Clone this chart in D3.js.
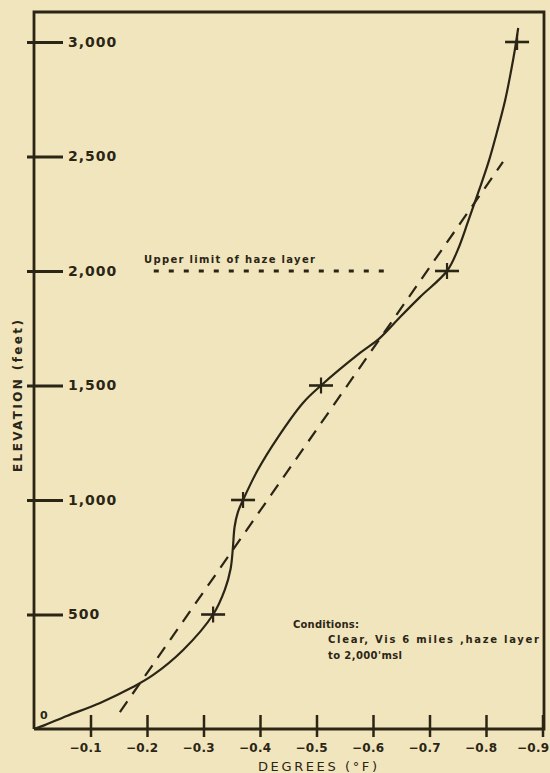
<!DOCTYPE html>
<html>
<head>
<meta charset="utf-8">
<script src="https://cdn.jsdelivr.net/npm/d3@7/dist/d3.min.js"></script>
<style>
  html, body { margin: 0; padding: 0; background: #f1e5bd; }
  svg { display: block; }
  text { font-family: "DejaVu Sans", sans-serif; font-weight: bold; fill: #2b2516; }
</style>
</head>
<body>
<div id="chart"></div>
<script>
// observed temperature change vs elevation (solid curve)
var curveDeg  = [0, -0.019, -0.058, -0.117, -0.175, -0.211, -0.264, -0.317, -0.338, -0.348, -0.352, -0.355, -0.361, -0.370,
                 -0.396, -0.432, -0.476, -0.508, -0.577, -0.612, -0.648, -0.683, -0.731, -0.750, -0.768, -0.786,
                 -0.804, -0.819, -0.834, -0.844, -0.851, -0.857];
var curveElev = [0, 17, 57, 114, 183, 236, 345, 500, 610, 700, 790, 882, 948, 1000,
                 1131, 1275, 1424, 1500, 1642, 1707, 1799, 1886, 2000, 2092, 2214, 2341,
                 2472, 2603, 2747, 2869, 2965, 3061];
// measured points (crosses)
var obsDeg  = [-0.317, -0.370, -0.508, -0.731, -0.855];
var obsElev = [500, 1000, 1500, 2000, 3000];
// straight dashed line
var fitDeg  = [-0.152, -0.830];
var fitElev = [74, 2476];
// haze layer top
var hazeDeg  = [-0.212, -0.625];
var hazeElev = [2000, 2000];

var yTicks = [500, 1000, 1500, 2000, 2500, 3000];
var xTicks = [-0.1, -0.2, -0.3, -0.4, -0.5, -0.6, -0.7, -0.8, -0.9];

var ink = "#2b2516";
var W = 550, H = 773;

var svg = d3.select("#chart").append("svg")
  .attr("width", W).attr("height", H);

var x = d3.scaleLinear().domain([0, -0.9]).range([34, 542.5]);
var y = d3.scaleLinear().domain([0, 3000]).range([729, 42]);

// frame
var frameTop = 12, frameRight = 544;
svg.append("path")
  .attr("d", "M" + x(0) + "," + y(0) + "V" + frameTop + "H" + frameRight + "V" + y(0) + "H" + x(0))
  .attr("fill", "none").attr("stroke", ink).attr("stroke-width", 2.8);

// y axis
var yAxis = svg.append("g")
  .attr("transform", "translate(" + x(0) + ",0)")
  .call(d3.axisRight(y).tickValues(yTicks).tickSize(29).tickPadding(5).tickFormat(d3.format(",")));
yAxis.select(".domain").remove();
yAxis.selectAll(".tick line").attr("x1", -7).attr("stroke", ink).attr("stroke-width", 2.8);
yAxis.selectAll(".tick text")
  .attr("fill", ink).style("font-size", "14px").style("letter-spacing", "1px").style("font-family", null);

// x axis
var xAxis = svg.append("g")
  .attr("transform", "translate(0," + y(0) + ")")
  .call(d3.axisBottom(x).tickValues(xTicks).tickSize(8).tickPadding(6)
    .tickFormat(function(d) { return "\u2212" + d3.format(".1f")(-d); }));
xAxis.select(".domain").remove();
xAxis.selectAll(".tick line").attr("y1", -14).attr("stroke", ink).attr("stroke-width", 2.5);
xAxis.selectAll(".tick text")
  .attr("fill", ink).attr("text-anchor", "end")
  .attr("x", function(d) { return Math.min(11, W - 1 - x(d)); })
  .style("font-size", "12px").style("letter-spacing", "0.3px").style("font-family", null);

// "0" at origin
svg.append("text").attr("x", x(0) + 6).attr("y", y(0) - 10)
  .style("font-size", "11px").text("0");

// axis titles
svg.append("text")
  .attr("transform", "translate(22," + 396 + ") rotate(-90)")
  .attr("text-anchor", "middle")
  .attr("textLength", 152).attr("lengthAdjust", "spacing")
  .style("font-size", "12px").text("ELEVATION (feet)");

svg.append("text")
  .attr("x", 258).attr("y", 771)
  .attr("textLength", 119).attr("lengthAdjust", "spacing")
  .style("font-size", "13px").style("font-weight", "normal").text("DEGREES (\u00b0F)");

// haze layer dotted line
svg.append("line")
  .attr("x1", x(hazeDeg[0])).attr("y1", y(hazeElev[0]))
  .attr("x2", x(hazeDeg[1])).attr("y2", y(hazeElev[1]))
  .attr("stroke", ink).attr("stroke-width", 3).attr("stroke-dasharray", "5,10");

svg.append("text").attr("x", 144).attr("y", 263)
  .attr("textLength", 171).attr("lengthAdjust", "spacing")
  .style("font-size", "10px").text("Upper limit of haze layer");

// dashed straight line
svg.append("line")
  .attr("x1", x(fitDeg[0])).attr("y1", y(fitElev[0]))
  .attr("x2", x(fitDeg[1])).attr("y2", y(fitElev[1]))
  .attr("stroke", ink).attr("stroke-width", 2.2).attr("stroke-dasharray", "13,9");

// solid curve
var pts = curveDeg.map(function(d, i) { return [d, curveElev[i]]; });
var line = d3.line()
  .x(function(d) { return x(d[0]); })
  .y(function(d) { return y(d[1]); })
  .curve(d3.curveCatmullRom.alpha(0.5));
svg.append("path").datum(pts)
  .attr("d", line)
  .attr("fill", "none").attr("stroke", ink).attr("stroke-width", 2.2);

// crosses
var obs = obsDeg.map(function(d, i) { return { deg: d, elev: obsElev[i] }; });
var cross = svg.selectAll("g.cross").data(obs).enter().append("g")
  .attr("class", "cross")
  .attr("transform", function(d) { return "translate(" + x(d.deg) + "," + y(d.elev) + ")"; });
cross.append("line").attr("x1", -12).attr("x2", 12)
  .attr("stroke", ink).attr("stroke-width", 2.6);
cross.append("line").attr("y1", -8).attr("y2", 8)
  .attr("stroke", ink).attr("stroke-width", 2.2);

// conditions note
var note = svg.append("g").style("font-size", "10px");
note.append("text").attr("x", 293).attr("y", 628)
  .attr("textLength", 66).attr("lengthAdjust", "spacing").text("Conditions:");
note.append("text").attr("x", 328).attr("y", 643)
  .attr("textLength", 211).attr("lengthAdjust", "spacing").text("Clear, Vis 6 miles ,haze layer");
note.append("text").attr("x", 328).attr("y", 659)
  .attr("textLength", 74).attr("lengthAdjust", "spacing").text("to 2,000'msl");
</script>
</body>
</html>
